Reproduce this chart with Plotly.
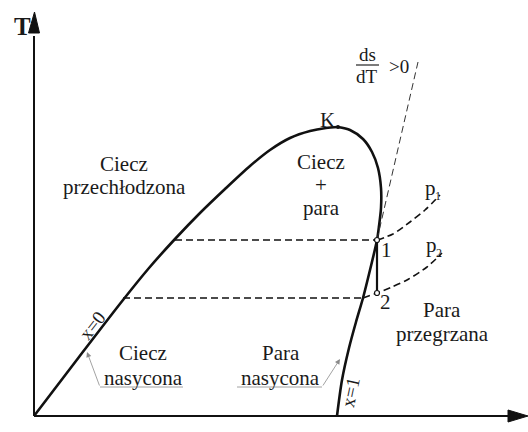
import plotly.graph_objects as go

# Saturation dome (s, T) — liquid branch x=0 up to critical point K, then vapour branch x=1
liq_s = [0, 45, 89, 115, 141, 166, 191, 216, 236, 256, 276, 292, 304]
liq_T = [0, 59, 116, 148, 177, 203, 227, 250, 266, 278, 285, 288, 289]
vap_s = [304, 316, 329, 338, 344, 347, 347, 345, 343, 336, 329, 322, 315, 308, 303]
vap_T = [289, 286, 277, 264, 248, 228, 208, 190, 176, 146, 118, 94, 68, 36, 0]

# Isobars p1, p2: two-phase (horizontal) part and superheated part
p1_two_s = [141, 343]
p1_two_T = [176, 176]
p1_sup_s = [343, 359, 376, 391, 406]
p1_sup_T = [176, 182, 194, 206, 221]
p2_two_s = [89, 329]
p2_two_T = [118, 118]
p2_sup_s = [329, 343, 358, 373, 393, 408]
p2_sup_T = [118, 123, 129, 136, 149, 163]

# Expansion 1 -> 2 at constant entropy
exp_s = [343, 343]
exp_T = [176, 123]

# Tangent line ds/dT > 0
tan_s = [343, 384]
tan_T = [176, 354]

# Critical point
K_s, K_T = 304, 289

BLACK = "#111111"
GREY = "#8a8a8a"
FONT = "Liberation Serif"

fig = go.Figure()


def line(xs, ys, width=2.6, dash=None, color=BLACK, shape="spline"):
    fig.add_trace(go.Scatter(
        x=xs, y=ys, mode="lines",
        line=dict(color=color, width=width, dash=dash, shape=shape, smoothing=0.8),
        hoverinfo="skip", showlegend=False))


line(liq_s, liq_T)
line(vap_s, vap_T)
dash = "7px,4px"
line(p1_two_s, p1_two_T, width=1.6, dash=dash, shape="linear")
line(p2_two_s, p2_two_T, width=1.6, dash=dash, shape="linear")
line(p1_sup_s, p1_sup_T, width=1.6, dash=dash)
line(p2_sup_s, p2_sup_T, width=1.6, dash=dash)
line(exp_s, exp_T, width=2.2, shape="linear")
line(tan_s, tan_T, width=1.0, dash="7px,4px", color="#333333", shape="linear")

# State points 1, 2 (open circles) and K (small dot)
fig.add_trace(go.Scatter(
    x=[exp_s[0], exp_s[1]], y=[exp_T[0], exp_T[1]], mode="markers",
    marker=dict(size=5, color="white", line=dict(color=BLACK, width=1.2)),
    hoverinfo="skip", showlegend=False))
fig.add_trace(go.Scatter(
    x=[K_s], y=[K_T], mode="markers",
    marker=dict(size=4, color=BLACK),
    hoverinfo="skip", showlegend=False))

shapes = []
# Axes with filled arrowheads
shapes.append(dict(type="line", x0=0, y0=0, x1=0, y1=380, line=dict(color=BLACK, width=2)))
shapes.append(dict(type="path", path="M -5.5 383 L 5.5 383 L 0.5 404 Z",
                   fillcolor=BLACK, line=dict(color=BLACK, width=1)))
shapes.append(dict(type="line", x0=0, y0=0, x1=476, y1=0, line=dict(color=BLACK, width=2)))
shapes.append(dict(type="path", path="M 474 6 L 474 -6 L 494 0 Z",
                   fillcolor=BLACK, line=dict(color=BLACK, width=1)))
# Fraction bar of ds/dT
shapes.append(dict(type="line", x0=322, y0=351, x1=345, y1=351, line=dict(color="#222222", width=1.2)))
# Label underlines
shapes.append(dict(type="line", x0=66, y0=29, x1=149, y1=29, line=dict(color=GREY, width=0.8)))
shapes.append(dict(type="line", x0=203, y0=29, x1=288, y1=29, line=dict(color=GREY, width=0.8)))
for s in shapes:
    s.update(xref="x", yref="y", layer="above")

TXT = dict(family=FONT, size=21, color="#1a1a1a")


def label(x, y, text, size=21, bold=False, angle=0, xanchor="center", yanchor="middle"):
    f = dict(TXT, size=size)
    t = f"<b>{text}</b>" if bold else text
    return dict(x=x, y=y, xref="x", yref="y", text=t, showarrow=False, font=f,
                textangle=angle, xanchor=xanchor, yanchor=yanchor)


annotations = [
    label(-12, 390, "T", size=25, bold=True),
    label(474, -17, "s", size=23, bold=True, yanchor="bottom"),
    label(293, 296, "K"),
    label(90, 252, "Ciecz"),
    label(90, 229, "przechłodzona"),
    label(287, 254, "Ciecz"),
    label(287, 231, "+"),
    label(287, 208, "para"),
    label(352, 166, "1"),
    label(351, 114, "2"),
    label(396, 228, "p"),
    label(404, 220, "1", size=12),
    label(397, 171, "p"),
    label(405, 163, "2", size=12),
    label(408, 106, "Para"),
    label(408, 82, "przegrzana"),
    label(109, 63, "Ciecz"),
    label(109, 38, "nasycona"),
    label(247, 63, "Para"),
    label(246, 38, "nasycona"),
    label(58, 91, "x=0", size=19, angle=-52),
    label(316, 24, "x=1", size=19, angle=-78),
    label(333, 362, "ds", size=19),
    label(333, 340, "dT", size=19),
    label(365, 350, "&gt;0", size=19),
]

# Leader arrows from label underlines to the saturation curves
for tip, tail in [((53, 64), (66, 29)), ((306, 57), (288, 29))]:
    annotations.append(dict(
        x=tip[0], y=tip[1], ax=tail[0], ay=tail[1],
        xref="x", yref="y", axref="x", ayref="y",
        text="", showarrow=True, arrowhead=2, arrowsize=1.3,
        arrowwidth=0.8, arrowcolor=GREY, standoff=0))

fig.update_layout(
    width=528, height=432,
    margin=dict(l=0, r=0, t=0, b=0),
    paper_bgcolor="white", plot_bgcolor="white",
    xaxis=dict(range=[-34, 494], visible=False, fixedrange=True),
    yaxis=dict(range=[-16, 416], visible=False, fixedrange=True),
    shapes=shapes,
    annotations=annotations,
    showlegend=False,
)

fig.write_html("out.html")
